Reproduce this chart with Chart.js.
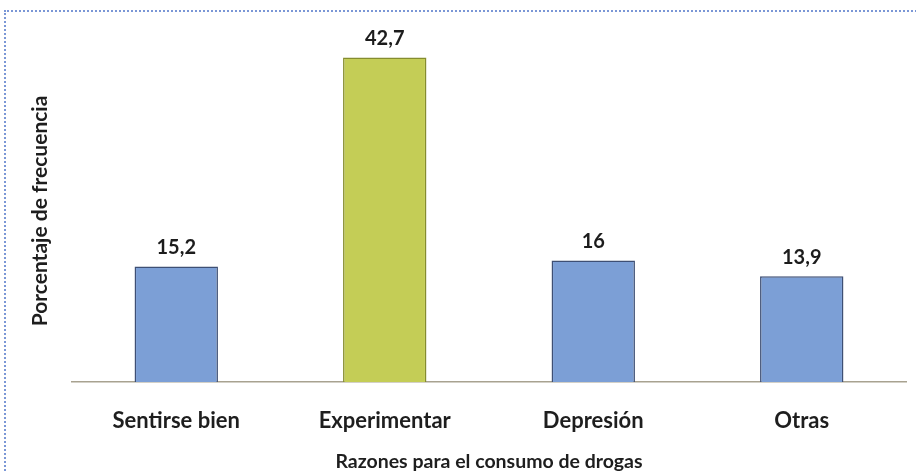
<!DOCTYPE html>
<html>
<head>
<meta charset="utf-8">
<script src="https://cdn.jsdelivr.net/npm/chart.js@4.4.1/dist/chart.umd.min.js"></script>
<style>
    html, body { margin: 0; padding: 0; background: #fff; }
    #wrap { position: relative; width: 916px; height: 472px; overflow: hidden; }
    #frame {
        position: absolute; left: 4px; top: 10px; width: 940px; height: 500px;
        border-left: 2px dotted #7b97d6; border-top: 2px dotted #7b97d6;
        box-sizing: border-box; pointer-events: none;
    }
    canvas { position: absolute; left: 0; top: 0; }
</style>
</head>
<body>
<div id="wrap">
    <canvas id="chart" width="916" height="472"></canvas>
    <div id="frame"></div>
</div>
<script>
// Data
const categories = ['Sentirse bien', 'Experimentar', 'Depresión', 'Otras'];
const values = [15.2, 42.7, 16, 13.9];
const barColors = ['#7c9fd6', '#c4cd56', '#7c9fd6', '#7c9fd6'];
const barBorders = ['#3e4f74', '#858c2e', '#3e4f74', '#3e4f74'];

const FONT = "Lato, 'Open Sans', sans-serif";

// value labels above the bars, decimal comma
const valueLabels = {
    id: 'valueLabels',
    afterDatasetsDraw(chart) {
        const ctx = chart.ctx;
        const meta = chart.getDatasetMeta(0);
        ctx.save();
        ctx.font = `bold 20px ${FONT}`;
        ctx.fillStyle = '#1c1c1c';
        ctx.textAlign = 'center';
        ctx.textBaseline = 'bottom';
        meta.data.forEach((bar, i) => {
            const txt = String(values[i]).replace('.', ',');
            ctx.fillText(txt, bar.x, bar.y - 9);
        });
        ctx.restore();
    }
};

new Chart(document.getElementById('chart'), {
    type: 'bar',
    data: {
        labels: categories,
        datasets: [{
            data: values,
            backgroundColor: barColors,
            borderColor: barBorders,
            borderWidth: 1.5,
            borderSkipped: 'bottom',
            categoryPercentage: 1,
            barPercentage: 0.4
        }]
    },
    options: {
        responsive: false,
        animation: false,
        layout: { padding: { left: 28, right: 10, top: 40, bottom: -1 } },
        plugins: {
            legend: { display: false },
            tooltip: { enabled: false }
        },
        scales: {
            x: {
                afterFit(scale) { scale.height = 91; },
                grid: { display: false },
                border: { display: true, color: '#a8a290', width: 1.5 },
                ticks: {
                    padding: 18,
                    color: '#1e1e1e',
                    font: { family: FONT, size: 22, weight: 'bold' }
                },
                title: {
                    display: true,
                    text: 'Razones para el consumo de drogas',
                    color: '#1e1e1e',
                    padding: { top: 0, bottom: 0 },
                    font: { family: FONT, size: 19.5, weight: 'bold' }
                }
            },
            y: {
                afterFit(scale) { scale.width = 44; },
                min: 0,
                max: 45,
                grid: { display: false },
                border: { display: false },
                ticks: { display: false },
                title: {
                    display: true,
                    text: 'Porcentaje de frecuencia',
                    color: '#1e1e1e',
                    padding: { top: 0, bottom: 0 },
                    font: { family: FONT, size: 21, weight: 'bold' }
                }
            }
        }
    },
    plugins: [valueLabels]
});
</script>
</body>
</html>
